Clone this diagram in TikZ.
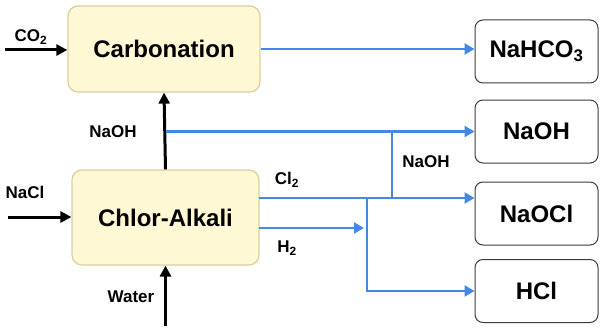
\documentclass[tikz,border=0pt]{standalone}
\usepackage{fontspec}
\setmainfont{Liberation Sans}
\usetikzlibrary{arrows.meta}
\definecolor{procfill}{RGB}{254,248,212}
\definecolor{procline}{RGB}{218,208,158}
\definecolor{flowblue}{RGB}{68,136,228}
\definecolor{boxline}{RGB}{60,60,60}

\begin{document}
\begin{tikzpicture}[x=1pt,y=-1pt,
    process/.style={draw=procline,fill=procfill,line width=1.2pt,rounded corners=10pt,
      font=\fontsize{24}{28}\selectfont\bfseries},
    product/.style={draw=boxline,fill=white,line width=1pt,rounded corners=8pt,
      minimum width=123pt,minimum height=63pt,font=\fontsize{24}{28}\selectfont\bfseries},
    lbl/.style={font=\fontsize{17}{20}\selectfont\bfseries},
    feed/.style={-{Triangle[length=11pt,width=11pt]},line width=3pt},
    flowline/.style={draw=flowblue,line width=2.6pt},
    flow/.style={flowline,-{Triangle[length=10pt,width=11pt]}}]
  \useasboundingbox (0,0) rectangle (600,329);
  % process units
  \node[process,minimum width=192pt,minimum height=86pt] (Carb)  at (164,49)    {Carbonation};
  \node[process,minimum width=187pt,minimum height=95pt] (Chlor) at (165.5,217.5) {Chlor-Alkali};
  % products
  \node[product] (NaHCO) at (536.5,51.5)  {NaHCO\textsubscript{3}};
  \node[product] (NaOH)  at (536.5,131.5) {NaOH};
  \node[product] (NaOCl) at (536.5,213.5) {NaOCl};
  \node[product] (HCl)   at (536.5,291)   {HCl};
  % free ends and junctions
  \coordinate (CoIn)    at (5,50);
  \coordinate (NaClIn)  at (8,217);
  \coordinate (WaterIn) at (165.5,326);
  \coordinate (ClOut)   at (259,198);
  \coordinate (HOut)    at (259,228);
  \coordinate (Jc)      at (392,198);
  \coordinate (Jh)      at (367,198);
  % labels
  \node[lbl] (LCo)    at (31,37)   {CO\textsubscript{2}};
  \node[lbl] (LNaOH)  at (113,132) {NaOH};
  \node[lbl] (LNaCl)  at (25,192)  {NaCl};
  \node[lbl] (LWater) at (131,297) {Water};
  \node[lbl] (LCl)    at (287,180) {Cl\textsubscript{2}};
  \node[lbl] (LH)     at (287,248) {H\textsubscript{2}};
  \node[lbl] (LNaOH2) at (426,162) {NaOH};
  % feeds
  \draw[feed] (CoIn)    -- (CoIn -| Carb.west);
  \draw[feed] (NaClIn)  -- (NaClIn -| Chlor.west);
  \draw[feed] (WaterIn) -- (Chlor.south);
  \draw[feed] (Chlor.north) -- (Carb.south);
  % product streams
  \draw[flow] (Carb.east)  -- (Carb.east -| NaHCO.west);
  \draw[flow] (Chlor.north |- NaOH.west) -- (NaOH.west);
  \draw[flow] (ClOut) -- (ClOut -| NaOCl.west);
  \draw[flow] (HOut)  -- ([xshift=-3pt]HOut -| Jh);
  \draw[flowline] (Jc |- NaOH.west) -- (Jc);
  \draw[flow] (Jh) |- (HCl.west);
\end{tikzpicture}
\end{document}
